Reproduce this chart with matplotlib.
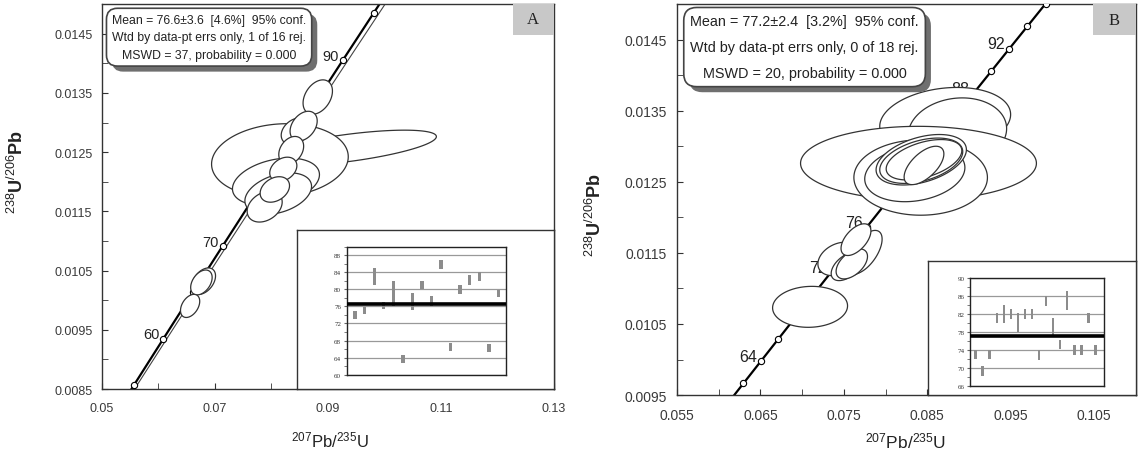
import numpy as np
import matplotlib
matplotlib.use("Agg")
import matplotlib.pyplot as plt
import matplotlib.patheffects as pe
from matplotlib.patches import Rectangle

plt.rcParams['font.family'] = ['Liberation Sans', 'DejaVu Sans']
plt.rcParams['mathtext.fontset'] = 'custom'
plt.rcParams['mathtext.rm'] = 'Liberation Sans'
plt.rcParams['mathtext.it'] = 'Liberation Sans:italic'
plt.rcParams['mathtext.bf'] = 'Liberation Sans:bold'

# decay constants (1/yr) for the concordia curve
LAMBDA_238 = 1.55125e-10
LAMBDA_235 = 9.8485e-10

# ---------------- panel A ----------------
a_marker_ages = [55, 60, 65, 70, 75, 80, 85, 90, 95]
a_label_ages = [60, 70, 80, 90]
# error ellipses: centre 207Pb/235U, 206Pb/238U, half extent x / y, correlation
a_ell_x = [0.0935, 0.0815, 0.0808, 0.0812, 0.0882, 0.0843, 0.0857, 0.0835,
           0.0821, 0.0788, 0.0806, 0.0680, 0.0676, 0.0656]
a_ell_y = [0.01257, 0.01236, 0.01200, 0.01180, 0.01343, 0.012853, 0.01294,
           0.01253, 0.01221, 0.01158, 0.01187, 0.010322, 0.01030, 0.009904]
a_ell_sx = [0.0157, 0.0121, 0.0077, 0.0059, 0.0026, 0.00257, 0.0024, 0.0022,
            0.0024, 0.0031, 0.0026, 0.0021, 0.0019, 0.0017]
a_ell_sy = [0.000301, 0.00062, 0.0004, 0.00035, 0.00029, 0.000226, 0.00025,
            0.000235, 0.000205, 0.00026, 0.000215, 0.000223, 0.00021, 0.000195]
a_ell_rho = [0.64, 0.1, 0.3, 0.35, 0.35, 0.3, 0.35, 0.3, 0.3, 0.3, 0.3, 0.4, 0.4, 0.4]
a_xticks = [0.05, 0.07, 0.09, 0.11, 0.13]
a_xminor = [0.06, 0.08, 0.10, 0.12]
a_yticks = [0.0085, 0.0095, 0.0105, 0.0115, 0.0125, 0.0135, 0.0145]
a_yminor = [0.009, 0.010, 0.011, 0.012, 0.013, 0.014]
a_stats = ("Mean = 76.6\u00b13.6  [4.6%]  95% conf.\n"
           "Wtd by data-pt errs only, 1 of 16 rej.\n"
           "MSWD = 37, probability = 0.000")
# inset: individual ages (Ma) and errors
a_ages = [74.0, 75.0, 83.1, 76.2, 79.0, 63.7, 77.1, 81.0, 77.2, 85.9, 66.5,
          80.0, 82.1, 83.0, 66.3, 79.0]
a_errs = [0.85, 0.85, 2.0, 0.9, 2.9, 0.85, 2.0, 0.9, 1.2, 1.05, 1.0, 1.1,
          1.2, 1.1, 0.95, 0.9]
a_mean = 76.6
a_inset_ticks = [60, 64, 68, 72, 76, 80, 84, 88]

# ---------------- panel B ----------------
b_marker_ages = [60, 62, 64, 66, 68, 70, 72, 74, 76, 78, 80, 82, 84, 86, 88,
                 90, 92, 94, 96]
b_label_ages = [64, 68, 72, 76, 80, 84, 88, 92]
b_ell_x = [0.07095, 0.08714, 0.0886, 0.08394, 0.0842, 0.0835, 0.08427,
           0.08427, 0.0846, 0.0846, 0.07437, 0.07664, 0.07705, 0.0775,
           0.07536, 0.07595, 0.07645]
b_ell_y = [0.010741, 0.013363, 0.01320, 0.01276, 0.01256, 0.01262, 0.01281,
           0.012796, 0.01281, 0.01273, 0.011415, 0.011472, 0.011475, 0.01151,
           0.01131, 0.011345, 0.011686]
b_ell_sx = [0.00449, 0.00784, 0.0059, 0.01413, 0.0080, 0.0060, 0.00541,
            0.00497, 0.00453, 0.00238, 0.00248, 0.00199, 0.00199, 0.00208,
            0.00188, 0.00188, 0.00179]
b_ell_sy = [0.000288, 0.000464, 0.00048, 0.00052, 0.00053, 0.0004, 0.000355,
            0.000319, 0.000284, 0.00027, 0.000235, 0.000282, 0.000293,
            0.000306, 0.0002, 0.000211, 0.000223]
b_ell_rho = [0.05, 0.18, 0.1, 0.0, 0.0, 0.2, 0.4, 0.4, 0.45, 0.6, 0.3, 0.6,
             0.6, 0.6, 0.5, 0.5, 0.55]
b_xticks = [0.055, 0.065, 0.075, 0.085, 0.095, 0.105]
b_xminor = [0.06, 0.07, 0.08, 0.09, 0.10]
b_yticks = [0.0095, 0.0105, 0.0115, 0.0125, 0.0135, 0.0145]
b_yminor = [0.010, 0.011, 0.012, 0.013, 0.014]
b_stats = ("Mean = 77.2\u00b12.4  [3.2%]  95% conf.\n"
           "Wtd by data-pt errs only, 0 of 18 rej.\n"
           "MSWD = 20, probability = 0.000")
b_ages = [73.0, 69.3, 73.0, 81.1, 82.05, 82.0, 80.15, 82.0, 82.0, 72.9, 84.95,
          79.1, 75.2, 85.05, 74.0, 74.0, 81.1, 74.0]
b_errs = [1.05, 1.2, 1.05, 1.1, 2.05, 1.1, 2.05, 1.1, 1.1, 1.1, 1.05, 1.95,
          1.1, 2.05, 1.1, 1.1, 1.1, 1.1]
b_mean = 77.2
b_inset_ticks = [66, 70, 74, 78, 82, 86, 90]


def concordia(ax, marker_ages, label_ages, band, fs):
    t = np.linspace(20, 130, 600) * 1e6
    x = np.exp(LAMBDA_235 * t) - 1
    y = np.exp(LAMBDA_238 * t) - 1
    ax.plot(x, y, color='black', lw=1.6, zorder=2)
    if band:
        ax.plot(x * 1.01, y, color='#444444', lw=0.8, zorder=2)
    tm = np.array(marker_ages) * 1e6
    ax.plot(np.exp(LAMBDA_235 * tm) - 1, np.exp(LAMBDA_238 * tm) - 1, 'o',
            ms=4.5, mfc='white', mec='black', mew=0.8, zorder=3)
    for age in label_ages:
        ta = age * 1e6
        ax.annotate(str(age), (np.exp(LAMBDA_235 * ta) - 1, np.exp(LAMBDA_238 * ta) - 1),
                    xytext=(-3, -2), textcoords='offset points', ha='right',
                    va='bottom', fontsize=fs, zorder=3, color='#222222',
                    annotation_clip=True)


def ellipses(ax, xs, ys, sxs, sys_, rhos):
    t = np.linspace(0, 2 * np.pi, 240)
    for k, (x, y, sx, sy, r) in enumerate(zip(xs, ys, sxs, sys_, rhos)):
        ex = x + sx * np.cos(t)
        ey = y + sy * (r * np.cos(t) + np.sqrt(1 - r * r) * np.sin(t))
        ax.fill(ex, ey, facecolor='white', edgecolor='#333333', lw=0.9,
                zorder=5 + k * 0.01)


def style_axes(ax, xlim, ylim, xt, xm, yt, ym, xfmt, yfmt, fs):
    ax.set_xlim(*xlim)
    ax.set_ylim(*ylim)
    ax.set_xticks(xt)
    ax.set_xticks(xm, minor=True)
    ax.set_yticks(yt)
    ax.set_yticks(ym, minor=True)
    ax.set_xticklabels([xfmt % v for v in xt], fontsize=fs, color='#3a3a3a')
    ax.set_yticklabels([yfmt % v for v in yt], fontsize=fs, color='#3a3a3a')
    ax.tick_params(axis='x', which='both', direction='in', length=4, pad=9,
                   color='#333333')
    ax.tick_params(axis='y', which='both', direction='in', length=4, pad=7,
                   color='#333333')
    for s in ax.spines.values():
        s.set_color('#333333')
        s.set_linewidth(1.0)


def stats_box(ax, x, y, text, fs, ls):
    t = ax.text(x, y, text, transform=ax.transAxes, ha='center', va='center',
                multialignment='center', fontsize=fs, linespacing=ls, zorder=20,
                color='#222222',
                bbox=dict(boxstyle='round,pad=0.45,rounding_size=0.9',
                          fc='white', ec='#444444', lw=1.2))
    t.get_bbox_patch().set_path_effects([
        pe.SimplePatchShadow(offset=(4, -4), shadow_rgbFace='#6f6f6f', alpha=1),
        pe.Normal()])


def panel_tag(ax, x0, y0, letter):
    ax.add_patch(Rectangle((x0, y0), 1 - x0, 1 - y0, transform=ax.transAxes,
                           facecolor='#c8c8c8', edgecolor='none', zorder=20))
    ax.text((1 + x0) / 2, (1 + y0) / 2, letter, transform=ax.transAxes,
            ha='center', va='center', fontsize=12, family='Liberation Serif',
            color='#222222', zorder=21)


def inset(fig, frame_rect, plot_rect, ages, errs, mean, ticks, ylim, xlim):
    fr = fig.add_axes(frame_rect)
    fr.set_xticks([])
    fr.set_yticks([])
    for s in fr.spines.values():
        s.set_color('#333333')
        s.set_linewidth(1.0)
    ins = fig.add_axes(plot_rect)
    idx = np.arange(1, len(ages) + 1)
    a = np.array(ages)
    e = np.array(errs)
    ins.bar(idx, 2 * e, bottom=a - e, width=0.35, color='#8c8c8c', zorder=3)
    ins.axhline(mean, color='black', lw=2.6, zorder=4)
    ins.set_ylim(*ylim)
    ins.set_xlim(*xlim)
    ins.set_xticks([])
    ins.set_yticks(ticks)
    ins.set_yticks(np.arange(ylim[0], ylim[1] + 0.1, 2), minor=True)
    ins.set_yticklabels([str(v) for v in ticks], fontsize=5,
                        family='Liberation Serif', color='#333333')
    ins.tick_params(axis='y', which='both', length=2, pad=2, color='#666666')
    ins.yaxis.grid(True, color='#999999', lw=0.9)
    ins.set_axisbelow(True)
    for s in ins.spines.values():
        s.set_color('#222222')
        s.set_linewidth(1.0)


fig = plt.figure(figsize=(11.41, 4.60), dpi=100)

# ---- panel A ----
axA = fig.add_axes([0.0894, 0.152, 0.396, 0.837])
concordia(axA, a_marker_ages, a_label_ages, True, 10.5)
ellipses(axA, a_ell_x, a_ell_y, a_ell_sx, a_ell_sy, a_ell_rho)
style_axes(axA, (0.05, 0.13), (0.0085, 0.0150), a_xticks, a_xminor,
           a_yticks, a_yminor, '%.2f', '%.4f', 9)
axA.set_xlabel(r'$^{207}$Pb/$^{235}$U', fontsize=12, color='#222222')
axA.xaxis.set_label_coords(0.504, -0.104)
axA.set_ylabel(r'$^{238}$U$^{/206}$Pb', fontsize=13, fontweight='bold', color='#222222')
axA.yaxis.set_label_coords(-0.166, 0.566)
stats_box(axA, 0.237, 0.914, a_stats, 8.8, 1.6)
panel_tag(axA, 0.909, 0.92, 'A')

# ---- panel B ----
axB = fig.add_axes([0.5933, 0.139, 0.4023, 0.85])
concordia(axB, b_marker_ages, b_label_ages, False, 11.5)
ellipses(axB, b_ell_x, b_ell_y, b_ell_sx, b_ell_sy, b_ell_rho)
style_axes(axB, (0.055, 0.110), (0.0095, 0.0150), b_xticks, b_xminor,
           b_yticks, b_yminor, '%.3f', '%.4f', 10)
axB.set_xlabel(r'$^{207}$Pb/$^{235}$U', fontsize=12.5, color='#222222')
axB.xaxis.set_label_coords(0.497, -0.09)
axB.set_ylabel(r'$^{238}$U$^{/206}$Pb', fontsize=13, fontweight='bold', color='#222222')
axB.yaxis.set_label_coords(-0.157, 0.463)
stats_box(axB, 0.278, 0.89, b_stats, 10.4, 2.1)
panel_tag(axB, 0.906, 0.92, 'B')

# ---- insets ----
inset(fig, [0.2603, 0.1522, 0.2252, 0.3457], [0.3039, 0.1833, 0.1396, 0.2783],
      a_ages, a_errs, a_mean, a_inset_ticks, (60, 90), (0.13, 16.8))
inset(fig, [0.8133, 0.139, 0.1823, 0.2913], [0.8501, 0.1593, 0.1174, 0.2335],
      b_ages, b_errs, b_mean, b_inset_ticks, (66, 90), (0.2, 19.2))

fig.savefig('out.png', dpi=100)
